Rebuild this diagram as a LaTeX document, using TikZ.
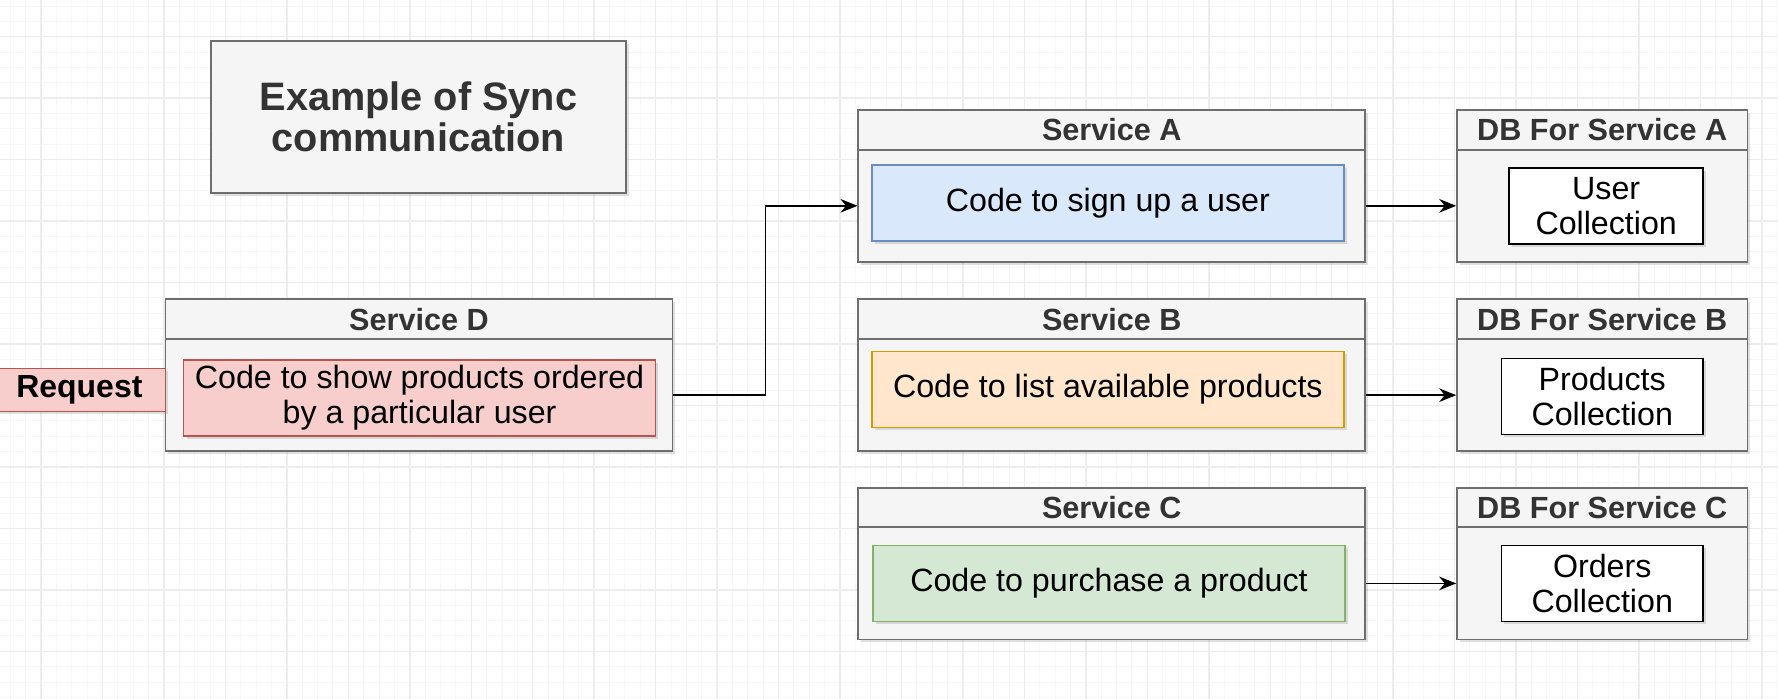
\documentclass[tikz,border=0pt]{standalone}
\usepackage{fontspec}
\setmainfont{Liberation Sans}
\usepackage{tikz}
\usetikzlibrary{arrows.meta, positioning, calc, shadows}

\definecolor{lanefill}{HTML}{F5F5F6}
\definecolor{laneline}{HTML}{6E6E6E}
\definecolor{headtext}{HTML}{333333}
\definecolor{bluefill}{HTML}{DAE8FC}
\definecolor{blueline}{HTML}{6C8EBF}
\definecolor{orangefill}{HTML}{FFE6CC}
\definecolor{orangeline}{HTML}{D79B00}
\definecolor{greenfill}{HTML}{D5E8D4}
\definecolor{greenline}{HTML}{82B366}
\definecolor{redfill}{HTML}{F8CECC}
\definecolor{redline}{HTML}{B85450}
\definecolor{gridlo}{HTML}{F7F7F7}
\definecolor{gridhi}{HTML}{EDEDED}

\begin{document}
\begin{tikzpicture}[x=1pt, y=-1pt,
    shade/.style={drop shadow={shadow xshift=2.5pt, shadow yshift=-2.5pt, opacity=0.25}},
    lane/.style={draw=laneline, fill=lanefill, line width=1.6pt, inner sep=0pt, shade},
    lanehead/.style={lane, minimum height=35pt, text=headtext, font=\fontsize{27}{30}\selectfont\bfseries},
    lanebody/.style={lane, minimum height=99pt},
    code/.style={draw, line width=1.4pt, inner sep=0pt, minimum width=416pt, minimum height=67pt, align=center, font=\fontsize{28.4}{31}\selectfont, shade},
    coll/.style={draw=black, fill=white, line width=1.4pt, inner sep=0pt, minimum height=67pt, align=center, font=\fontsize{28.4}{31}\selectfont, shade},
    arrow/.style={-{Stealth[length=15pt, width=12pt]}, line width=1.3pt},
    gridminor/.style={gridlo, line width=0.9pt},
    gridmajor/.style={gridhi, line width=1.3pt},
]

\useasboundingbox (0,0) rectangle (1568,616);
\fill[white] (0,0) rectangle (1568,616);

% background grid
\foreach \i in {-3,...,113} \draw[gridminor] ({36.2+13.55*\i},0) -- ({36.2+13.55*\i},616);
\foreach \i in {-3,...,45} \draw[gridminor] (0,{32.4+13.55*\i}) -- (1568,{32.4+13.55*\i});
\foreach \i in {-1,...,28} \draw[gridmajor] ({36.2+54.2*\i},0) -- ({36.2+54.2*\i},616);
\foreach \i in {-1,...,11} \draw[gridmajor] (0,{32.4+54.2*\i}) -- (1568,{32.4+54.2*\i});

\node[lane, minimum width=366pt, minimum height=134pt, align=center, text=headtext,
      font=\fontsize{35}{37}\selectfont\bfseries] (title) at (369,103) {Example of Sync\\communication};

% requesting service
\node[lanehead, minimum width=447pt] (svcDhead) at (369.5,281.5) {Service D};
\node[lanebody, minimum width=447pt] (svcD) at (369.5,348.5) {};
\node[code, fill=redfill, draw=redline] (codeD) at (370,351) {Code to show products ordered\\by a particular user};
\node[draw=redline, fill=redfill, line width=1.4pt, minimum width=152pt, minimum height=38pt, inner sep=0pt,
      font=\fontsize{28.2}{30}\selectfont\bfseries, shade] (request) at (70,344) {Request};

% services
\node[lanehead, minimum width=447pt] (svcAhead) at (980.5,114.5) {Service A};
\node[lanebody, minimum width=447pt] (svcA) at (980.5,181.5) {};
\node[code, fill=bluefill, draw=blueline] (codeA) at (977,179) {Code to sign up a user};

\node[lanehead, minimum width=447pt] (svcBhead) at (980.5,281.5) {Service B};
\node[lanebody, minimum width=447pt] (svcB) at (980.5,348.5) {};
\node[code, fill=orangefill, draw=orangeline] (codeB) at (977,343.5) {Code to list available products};

\node[lanehead, minimum width=447pt] (svcChead) at (980.5,447.5) {Service C};
\node[lanebody, minimum width=447pt] (svcC) at (980.5,514.5) {};
\node[code, fill=greenfill, draw=greenline] (codeC) at (978,514.5) {Code to purchase a product};

% databases
\node[lanehead, minimum width=256pt] (dbAhead) at (1413,114.5) {DB For Service A};
\node[lanebody, minimum width=256pt] (dbA) at (1413,181.5) {};
\node[coll, minimum width=171pt] (colA) at (1416.5,181.5) {User\\Collection};

\node[lanehead, minimum width=256pt] (dbBhead) at (1413,281.5) {DB For Service B};
\node[lanebody, minimum width=256pt] (dbB) at (1413,348.5) {};
\node[coll, minimum width=178pt] (colB) at (1413,349.5) {Products\\Collection};

\node[lanehead, minimum width=256pt] (dbChead) at (1413,447.5) {DB For Service C};
\node[lanebody, minimum width=256pt] (dbC) at (1413,514.5) {};
\node[coll, minimum width=178pt] (colC) at (1413,514.5) {Orders\\Collection};

% edges
\draw[arrow] (svcD.east) -| ($(svcD.east)!0.5!(svcA.west)$) |- (svcA.west);
\draw[arrow] (svcA.east) -- (dbA.west);
\draw[arrow] (svcB.east) -- (dbB.west);
\draw[arrow] (svcC.east) -- (dbC.west);

\end{tikzpicture}
\end{document}
